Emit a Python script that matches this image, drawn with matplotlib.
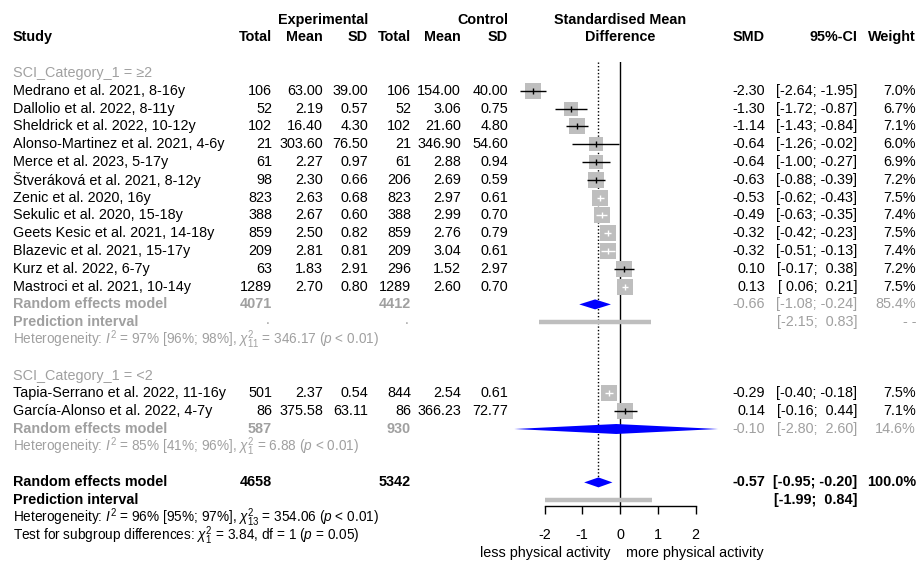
import numpy as np
import matplotlib
matplotlib.use("Agg")
import matplotlib.pyplot as plt

plt.rcParams['font.family'] = ['Liberation Sans', 'DejaVu Sans']
plt.rcParams['mathtext.fontset'] = 'custom'
plt.rcParams['mathtext.rm'] = 'Liberation Sans'
plt.rcParams['mathtext.it'] = 'Liberation Sans:italic'
plt.rcParams['mathtext.bf'] = 'Liberation Sans:bold'

# ---- data ----
studies = ["Medrano et al. 2021, 8-16y", "Dallolio et al. 2022, 8-11y",
           "Sheldrick et al. 2022, 10-12y", "Alonso-Martinez et al. 2021, 4-6y",
           "Merce et al. 2023, 5-17y", "Štveráková et al. 2021, 8-12y",
           "Zenic et al. 2020, 16y", "Sekulic et al. 2020, 15-18y",
           "Geets Kesic et al. 2021, 14-18y", "Blazevic et al. 2021, 15-17y",
           "Kurz et al. 2022, 6-7y", "Mastroci et al. 2021, 10-14y",
           "Tapia-Serrano et al. 2022, 11-16y", "García-Alonso et al. 2022, 4-7y"]
group = [0]*12 + [1]*2
n_e = [106, 52, 102, 21, 61, 98, 823, 388, 859, 209, 63, 1289, 501, 86]
mean_e = [63.00, 2.19, 16.40, 303.60, 2.27, 2.30, 2.63, 2.67, 2.50, 2.81, 1.83, 2.70, 2.37, 375.58]
sd_e = [39.00, 0.57, 4.30, 76.50, 0.97, 0.66, 0.68, 0.60, 0.82, 0.81, 2.91, 0.80, 0.54, 63.11]
n_c = [106, 52, 102, 21, 61, 206, 823, 388, 859, 209, 296, 1289, 844, 86]
mean_c = [154.00, 3.06, 21.60, 346.90, 2.88, 2.69, 2.97, 2.99, 2.76, 3.04, 1.52, 2.60, 2.54, 366.23]
sd_c = [40.00, 0.75, 4.80, 54.60, 0.94, 0.59, 0.61, 0.70, 0.79, 0.61, 2.97, 0.70, 0.61, 72.77]
smd = [-2.30, -1.30, -1.14, -0.64, -0.64, -0.63, -0.53, -0.49, -0.32, -0.32, 0.10, 0.13, -0.29, 0.14]
ci_lo = [-2.64, -1.72, -1.43, -1.26, -1.00, -0.88, -0.62, -0.63, -0.42, -0.51, -0.17, 0.06, -0.40, -0.16]
ci_hi = [-1.95, -0.87, -0.84, -0.02, -0.27, -0.39, -0.43, -0.35, -0.23, -0.13, 0.38, 0.21, -0.18, 0.44]
weight = [7.0, 6.7, 7.1, 6.0, 6.9, 7.2, 7.5, 7.4, 7.5, 7.4, 7.2, 7.5, 7.5, 7.1]

group_labels = ["SCI_Category_1 = \u22652", "SCI_Category_1 = <2"]
group_n_e = [4071, 587]
group_n_c = [4412, 930]
group_est = [-0.66, -0.10]
group_lo = [-1.08, -2.80]
group_hi = [-0.24, 2.60]
group_w = [85.4, 14.6]
group_pi = [(-2.15, 0.83), None]
group_het = [r"Heterogeneity: $I^2$ = 97% [96%; 98%], $\chi^2_{11}$ = 346.17 ($p$ < 0.01)",
             r"Heterogeneity: $I^2$ = 85% [41%; 96%], $\chi^2_{1}$ = 6.88 ($p$ < 0.01)"]

tot_n_e, tot_n_c = 4658, 5342
tot_est, tot_lo, tot_hi = -0.57, -0.95, -0.20
tot_pi = (-1.99, 0.84)
tot_het = r"Heterogeneity: $I^2$ = 96% [95%; 97%], $\chi^2_{13}$ = 354.06 ($p$ < 0.01)"
test_sub = r"Test for subgroup differences: $\chi^2_{1}$ = 3.84, df = 1 ($p$ = 0.05)"

# ---- layout ----
W, H = 921, 565
y0, dy = 73, 17.8
px_per = 37.75
x_zero = 620
grey = "#A0A0A0"
sqgrey = "#BEBEBE"
fs = 10.4
fs_small = 9.8

def row_of_px(p):
    return (p - y0) / dy

fig = plt.figure(figsize=(W/100, H/100), dpi=100)
tab = fig.add_axes([0, 0, 1, 1])
tab.set_xlim(0, W)
tab.set_ylim(row_of_px(H), row_of_px(0))
tab.axis('off')

xl, xr = -3.2, 3.2
ax_top, ax_bot = 62, 506
ax = fig.add_axes([(x_zero + xl*px_per)/W, (H - ax_bot)/H,
                   (xr - xl)*px_per/W, (ax_bot - ax_top)/H])
ax.set_xlim(xl, xr)
ax.set_ylim(row_of_px(ax_bot), row_of_px(ax_top))
ax.patch.set_alpha(0)
for s in ['top', 'right', 'left']:
    ax.spines[s].set_visible(False)
ax.spines['bottom'].set_bounds(-2, 2)
ax.spines['bottom'].set_linewidth(1)
ax.set_yticks([])
ax.set_xticks([-2, -1, 0, 1, 2])
ax.set_xticklabels(["-2", "-1", "0", "1", "2"], fontsize=fs)
ax.tick_params(axis='x', direction='out', length=5.5, width=1, pad=10.5)

col_x = {'ne': 272, 'me': 323, 'se': 368, 'nc': 411, 'mc': 461, 'sc': 508,
         'smd': 765, 'ci': 857, 'w': 916}

def t(x, r, s, ha='right', color='black', bold=False, size=fs):
    tab.text(x, r, s, ha=ha, va='center', color=color, fontsize=size,
             fontweight='bold' if bold else 'normal')

# headers
t(col_x['se'], -3, "Experimental", bold=True)
t(col_x['sc'], -3, "Control", bold=True)
t(x_zero, -3, "Standardised Mean", ha='center', bold=True)
t(13, -2, "Study", ha='left', bold=True)
for k, s in [('ne', 'Total'), ('me', 'Mean'), ('se', 'SD'), ('nc', 'Total'),
             ('mc', 'Mean'), ('sc', 'SD'), ('smd', 'SMD'), ('ci', '95%-CI'), ('w', 'Weight')]:
    t(col_x[k], -2, s, bold=True)
t(x_zero, -2, "Difference", ha='center', bold=True)

def ci_str(lo, hi):
    return f"[{lo:5.2f}; {hi:5.2f}]"

# rows
r = 0
study_rows = []
group_rows = []
for g in range(2):
    t(13, r, group_labels[g], ha='left', color=grey)
    r += 1
    for i in [k for k in range(len(studies)) if group[k] == g]:
        study_rows.append(r)
        t(13, r, studies[i], ha='left')
        t(col_x['ne'], r, f"{n_e[i]}")
        t(col_x['me'], r, f"{mean_e[i]:.2f}")
        t(col_x['se'], r, f"{sd_e[i]:.2f}")
        t(col_x['nc'], r, f"{n_c[i]}")
        t(col_x['mc'], r, f"{mean_c[i]:.2f}")
        t(col_x['sc'], r, f"{sd_c[i]:.2f}")
        t(col_x['smd'], r, f"{smd[i]:.2f}")
        t(col_x['ci'], r, ci_str(ci_lo[i], ci_hi[i]))
        t(col_x['w'], r, f"{weight[i]:.1f}%")
        r += 1
    group_rows.append(r)
    t(13, r, "Random effects model", ha='left', color=grey, bold=True)
    t(col_x['ne'], r, f"{group_n_e[g]}", color=grey, bold=True)
    t(col_x['nc'], r, f"{group_n_c[g]}", color=grey, bold=True)
    t(col_x['smd'], r, f"{group_est[g]:.2f}", color=grey)
    t(col_x['ci'], r, ci_str(group_lo[g], group_hi[g]), color=grey)
    t(col_x['w'], r, f"{group_w[g]:.1f}%", color=grey)
    r += 1
    if group_pi[g] is not None:
        t(13, r, "Prediction interval", ha='left', color=grey, bold=True)
        t(col_x['ne'] - 2, r - 0.15, ".", color=grey)
        t(col_x['nc'] - 2, r - 0.15, ".", color=grey)
        t(col_x['ci'], r, ci_str(*group_pi[g]), color=grey)
        t(col_x['w'], r, "- -", color=grey)
        ax.hlines(r, group_pi[g][0], group_pi[g][1], color=sqgrey, lw=3.2)
        r += 1
    t(13, r, group_het[g], ha='left', color=grey, size=fs_small)
    r += 2

tot_row = r
t(13, r, "Random effects model", ha='left', bold=True)
t(col_x['ne'], r, f"{tot_n_e}", bold=True)
t(col_x['nc'], r, f"{tot_n_c}", bold=True)
t(col_x['smd'], r, f"{tot_est:.2f}", bold=True)
t(col_x['ci'], r, ci_str(tot_lo, tot_hi), bold=True)
t(col_x['w'], r, "100.0%", bold=True)
t(13, r + 1, "Prediction interval", ha='left', bold=True)
t(col_x['ci'], r + 1, ci_str(*tot_pi), bold=True)
t(13, r + 2, tot_het, ha='left', size=fs_small)
t(13, r + 3, test_sub, ha='left', size=fs_small)

# ---- forest marks ----
ax.axvline(0, color='black', lw=1, zorder=1)
ax.plot([tot_est, tot_est], [row_of_px(ax_top), tot_row], color='black',
        lw=1, ls=(0, (1, 1.5)), zorder=1)

sizes = 125 * np.array(weight) / 7.5
half = np.sqrt(sizes) * 100 / 72 / 2 / px_per
for i, rr in enumerate(study_rows):
    ax.scatter(smd[i], rr, s=sizes[i], marker='s', color=sqgrey, lw=0, zorder=2)
    inside = (ci_lo[i] >= smd[i] - half[i]) and (ci_hi[i] <= smd[i] + half[i])
    c = 'white' if inside else 'black'
    ax.hlines(rr, ci_lo[i], ci_hi[i], color=c, lw=1, zorder=3)
    ax.plot(smd[i], rr, marker='|', ms=4.5, mew=1, color=c, zorder=3)

def diamond(est, lo, hi, rr):
    ax.fill([lo, est, hi, est], [rr, rr - 0.28, rr, rr + 0.28],
            color='#0000FF', lw=0, zorder=4)

for g in range(2):
    diamond(group_est[g], group_lo[g], group_hi[g], group_rows[g])
diamond(tot_est, tot_lo, tot_hi, tot_row)
ax.hlines(tot_row + 1, tot_pi[0], tot_pi[1], color=sqgrey, lw=3.2, zorder=2)

ax.text(-0.24, row_of_px(553), "less physical activity", ha='right', va='center',
        fontsize=fs, clip_on=False)
ax.text(0.17, row_of_px(553), "more physical activity", ha='left', va='center',
        fontsize=fs, clip_on=False)

fig.savefig("out.png", dpi=100)
